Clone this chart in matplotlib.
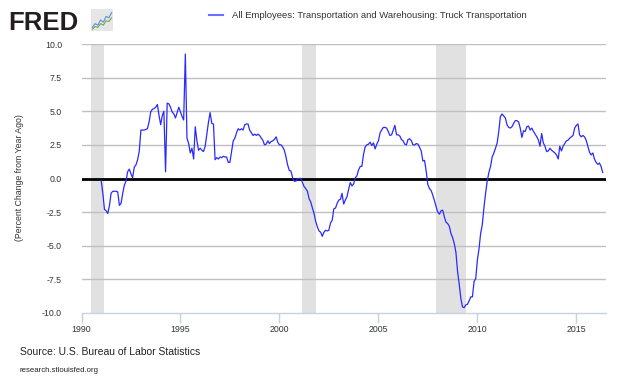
""" FRED chart: truck transportation employees, percent change from year ago. """

import numpy as np
import pandas as pd
import matplotlib
matplotlib.use("Agg")
import matplotlib.pyplot as plt
import matplotlib.dates as mdates
from matplotlib.lines import Line2D

# monthly values, percent change from year ago
y1991 = [-0.2, -1.2, -2.3, -2.4, -2.6, -2.0, -1.1, -0.95, -0.95, -0.95, -1.0, -2.0]
y1992 = [-1.85, -1.1, -0.5, -0.2, 0.5, 0.7, 0.35, 0.05, 0.85, 1.0, 1.4, 2.0]
y1993 = [3.6, 3.6, 3.6, 3.65, 3.7, 4.2, 4.95, 5.15, 5.2, 5.3, 5.5, 4.7]
y1994 = [4.0, 4.7, 5.0, 0.5, 5.6, 5.55, 5.3, 4.95, 4.8, 4.5, 4.9, 5.3]
y1995 = [4.95, 4.6, 4.35, 9.25, 3.0, 2.6, 1.9, 2.25, 1.45, 3.85, 2.8, 2.1]
y1996 = [2.25, 2.1, 2.0, 2.4, 3.3, 4.2, 4.9, 4.1, 4.05, 1.4, 1.55, 1.45]
y1997 = [1.6, 1.55, 1.65, 1.6, 1.6, 1.2, 1.2, 2.0, 2.8, 3.0, 3.4, 3.7]
y1998 = [3.6, 3.7, 3.6, 4.0, 4.05, 4.05, 3.6, 3.4, 3.2, 3.3, 3.2, 3.3]
y1999 = [3.2, 3.0, 2.85, 2.5, 2.55, 2.8, 2.6, 2.75, 2.8, 2.9, 3.1, 2.7]
y2000 = [2.5, 2.5, 2.35, 2.1, 1.6, 1.0, 0.6, 0.55, 0.05, -0.2, -0.2, 0.0]
y2001 = [0.0, 0.0, -0.3, -0.6, -0.75, -0.95, -1.5, -1.75, -2.2, -2.6, -3.2, -3.6]
y2002 = [-3.9, -4.0, -4.3, -4.0, -3.85, -3.9, -3.85, -3.3, -3.1, -2.25, -2.2, -1.85]
y2003 = [-1.6, -1.55, -1.1, -1.9, -1.6, -1.35, -0.8, -0.3, -0.55, -0.4, 0.05, 0.2]
y2004 = [0.65, 0.9, 0.9, 1.8, 2.35, 2.5, 2.55, 2.7, 2.45, 2.65, 2.2, 2.55]
y2005 = [2.8, 3.4, 3.6, 3.8, 3.8, 3.75, 3.5, 3.2, 3.25, 3.6, 3.95, 3.25]
y2006 = [3.25, 3.15, 2.9, 2.8, 2.55, 2.5, 2.9, 2.95, 2.8, 2.5, 2.5, 2.6]
y2007 = [2.55, 2.3, 2.05, 1.3, 1.35, 0.55, -0.45, -0.75, -0.9, -1.25, -1.65, -2.1]
y2008 = [-2.5, -2.65, -2.4, -2.35, -2.85, -3.25, -3.35, -3.55, -4.1, -4.4, -4.85, -5.5]
y2009 = [-6.95, -7.9, -8.9, -9.55, -9.6, -9.4, -9.35, -9.1, -8.8, -8.8, -7.65, -7.45]
y2010 = [-6.05, -5.2, -4.1, -3.45, -2.2, -1.1, -0.2, 0.45, 0.9, 1.6, 1.9, 2.25]
y2011 = [2.65, 3.55, 4.6, 4.8, 4.65, 4.5, 4.0, 3.8, 3.75, 3.85, 4.1, 4.3]
y2012 = [4.3, 4.2, 3.75, 3.05, 3.55, 3.5, 3.85, 3.9, 3.6, 3.75, 3.5, 3.3]
y2013 = [3.1, 2.85, 2.4, 3.35, 2.65, 2.4, 2.0, 2.05, 2.25, 2.1, 2.0, 1.9]
y2014 = [1.75, 1.45, 2.4, 2.05, 2.4, 2.6, 2.8, 2.85, 3.0, 3.1, 3.2, 3.75]
y2015 = [3.95, 4.05, 3.25, 3.1, 3.2, 3.1, 2.85, 2.4, 1.95, 1.75, 1.9, 1.45]
y2016 = [1.2, 1.05, 1.15, 0.9, 0.45]

yearly = [y1991, y1992, y1993, y1994, y1995, y1996, y1997, y1998, y1999,
          y2000, y2001, y2002, y2003, y2004, y2005, y2006, y2007, y2008,
          y2009, y2010, y2011, y2012, y2013, y2014, y2015, y2016]
values = [v for year in yearly for v in year]
dates = pd.date_range("1991-01-01", periods=len(values), freq="MS")

recession_start = ["1990-07-01", "2001-03-01", "2007-12-01"]
recession_end = ["1991-03-01", "2001-11-01", "2009-06-01"]

y_ticks = [-10.0, -7.5, -5.0, -2.5, 0.0, 2.5, 5.0, 7.5, 10.0]
x_tick_years = [1990, 1995, 2000, 2005, 2010, 2015]

# small logo sparkline
logo_blue = [1, 2, 1.6, 3, 2.4, 4, 3.6, 5]
logo_green = [0.5, 1.2, 1.0, 2.0, 1.6, 2.8, 2.6, 3.6]

LINE_COLOR = "#2a2aff"
AXIS_BLUE = "#c4d2e2"
TEXT = "#333333"

plt.rcParams["font.family"] = ["Liberation Sans", "DejaVu Sans"]

fig = plt.figure(figsize=(6.3, 3.78), dpi=100)
ax = fig.add_axes([81.5 / 630, 1 - 313 / 378, (606 - 81.5) / 630, (313 - 44) / 378])

for s, e in zip(recession_start, recession_end):
    ax.axvspan(pd.Timestamp(s), pd.Timestamp(e), color="#e1e1e1", lw=0, zorder=0)

for t in y_ticks[1:]:
    ax.axhline(t, color="#c0c0c0", lw=1, zorder=1)
ax.axhline(0, color="black", lw=2, zorder=2)

ax.plot(dates, values, color=LINE_COLOR, lw=0.9, zorder=3)

ax.set_xlim(pd.Timestamp("1990-01-01"), pd.Timestamp("2016-07-01"))
ax.set_ylim(-10, 10)
ax.set_yticks(y_ticks)
ax.set_yticklabels([f"{t:.1f}" for t in y_ticks], fontsize=6.3, color=TEXT)
ax.tick_params(axis="y", length=0, pad=14)

ax.set_xticks([pd.Timestamp(f"{y}-01-01") for y in x_tick_years])
ax.xaxis.set_major_formatter(mdates.DateFormatter("%Y"))
ax.tick_params(axis="x", direction="out", length=7, width=1, color=AXIS_BLUE,
               labelsize=6.3, labelcolor=TEXT, pad=2)

for side in ["top", "right", "left"]:
    ax.spines[side].set_visible(False)
ax.spines["bottom"].set_color(AXIS_BLUE)
ax.spines["bottom"].set_linewidth(1)

fig.text(20 / 630, 1 - 178 / 378, "(Percent Change from Year Ago)", rotation=90,
         ha="center", va="center", fontsize=6.3, color=TEXT)

handle = Line2D([], [], color="#6f6fff", lw=1.5)
fig.legend([handle], ["All Employees: Transportation and Warehousing: Truck Transportation"],
           loc="center", bbox_to_anchor=(368 / 630, 1 - 16 / 378), frameon=False,
           fontsize=6.8, handlelength=1.5, handletextpad=0.9, labelcolor=TEXT)

# FRED logo
fig.text(8 / 630, 1 - 30 / 378, "FRED", fontsize=18.5, fontweight="bold",
         color="#231f20", va="baseline")
logo = fig.add_axes([91 / 630, 1 - 31 / 378, 22 / 630, 22 / 378])
logo.set_facecolor("#e6e6e6")
logo.plot(range(len(logo_blue)), logo_blue, color="#5b8fd6", lw=0.8)
logo.plot(range(len(logo_green)), logo_green, color="#6aa84f", lw=0.8)
logo.set_xlim(-0.5, len(logo_blue) - 0.5)
logo.set_ylim(0, 6)
logo.set_xticks([])
logo.set_yticks([])
for s in logo.spines.values():
    s.set_visible(False)

fig.text(20 / 630, 1 - 352 / 378, "Source: U.S. Bureau of Labor Statistics",
         fontsize=7.5, color="#222222", va="center")
fig.text(20 / 630, 1 - 370 / 378, "research.stlouisfed.org",
         fontsize=5.6, color="#222222", va="center")

fig.savefig("out.png", dpi=100)
